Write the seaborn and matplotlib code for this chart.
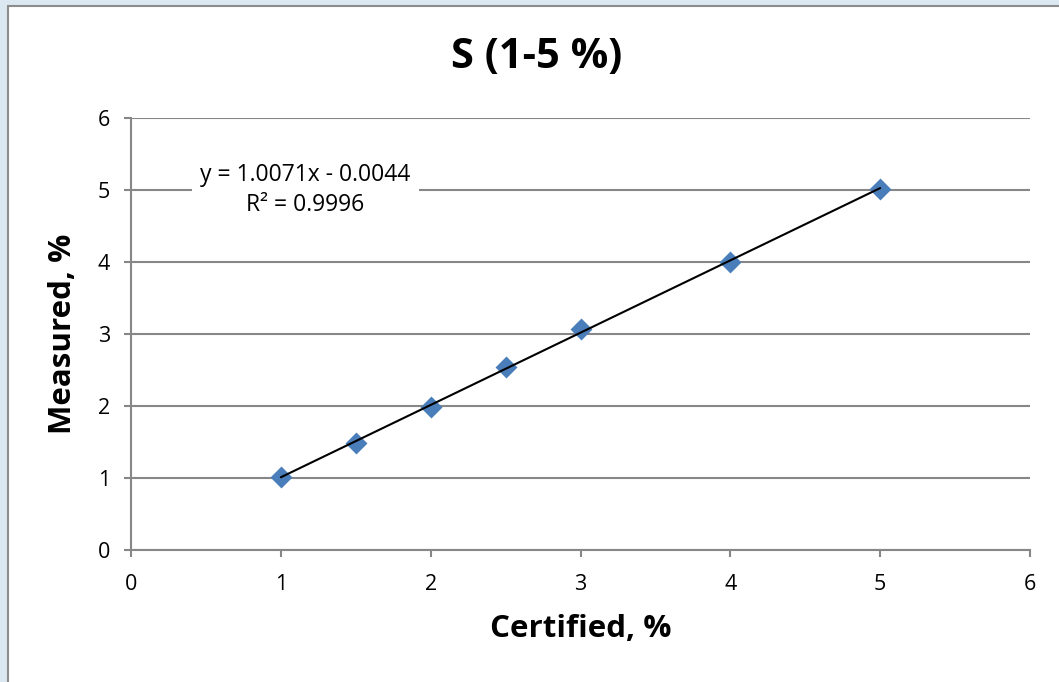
import numpy as np
import pandas as pd
import seaborn as sns
import matplotlib.pyplot as plt
from matplotlib.patches import Rectangle

certified = [1.0, 1.5, 2.0, 2.5, 3.0, 4.0, 5.0]
measured = [1.02, 1.49, 1.98, 2.54, 3.07, 4.00, 5.02]
equation_text = "y = 1.0071x - 0.0044\nR² = 0.9996"
ticks = [0, 1, 2, 3, 4, 5, 6]

df = pd.DataFrame({"Certified": certified, "Measured": measured})

sns.set_style("white")
plt.rcParams['font.family'] = ['Open Sans', 'DejaVu Sans']
plt.rcParams['text.color'] = 'black'
plt.rcParams['axes.labelcolor'] = 'black'
plt.rcParams['xtick.labelcolor'] = 'black'
plt.rcParams['ytick.labelcolor'] = 'black'

grey = '#878787'
fig = plt.figure(figsize=(10.59, 6.82), dpi=100, facecolor='#dbe8f1')
# chart area frame
fig.patches.append(Rectangle((8 / 1059, -0.1), 1.2, 1 - 6 / 682 + 0.1, transform=fig.transFigure,
                             facecolor='white', edgecolor='#8c8c8c', linewidth=1.5, zorder=-10))

ax = fig.add_axes([131 / 1059, 1 - 550 / 682, (1030 - 131) / 1059, (550 - 118) / 682])
ax.set_facecolor('none')

sns.regplot(data=df, x="Certified", y="Measured", ax=ax, ci=None, marker='D',
            scatter_kws=dict(color='#4a7ebb', s=125, linewidths=0, zorder=3, alpha=1),
            line_kws=dict(color='black', linewidth=1.5, zorder=4))

ax.set_xlim(0, 6)
ax.set_ylim(0, 6)
ax.set_xticks(ticks)
ax.set_yticks(ticks)
ax.grid(axis='y', color=grey, linewidth=1.5)
ax.set_axisbelow(True)
for side in ['top', 'right']:
    ax.spines[side].set_visible(False)
for side in ['left', 'bottom']:
    ax.spines[side].set_color(grey)
    ax.spines[side].set_linewidth(1.5)
ax.tick_params(axis='both', direction='out', length=5, width=1.5, color=grey,
               labelsize=15.5, left=True, bottom=True)
ax.tick_params(axis='x', pad=12)
ax.tick_params(axis='y', pad=10)

ax.set_xlabel("Certified, %", fontsize=22.5, fontweight='bold', labelpad=14)
ax.set_ylabel("Measured, %", fontsize=22.5, fontweight='bold', labelpad=14)
fig.text(537 / 1059, 1 - 57 / 682, "S (1-5 %)", fontsize=30, fontweight='bold',
         ha='center', va='center')

ax.text(1.165, 5.0, equation_text, fontsize=16.5, ha='center', va='center',
        linespacing=1.35, zorder=5,
        bbox=dict(facecolor='white', edgecolor='none', pad=6))

fig.savefig("out.png", dpi=100, facecolor=fig.get_facecolor())
